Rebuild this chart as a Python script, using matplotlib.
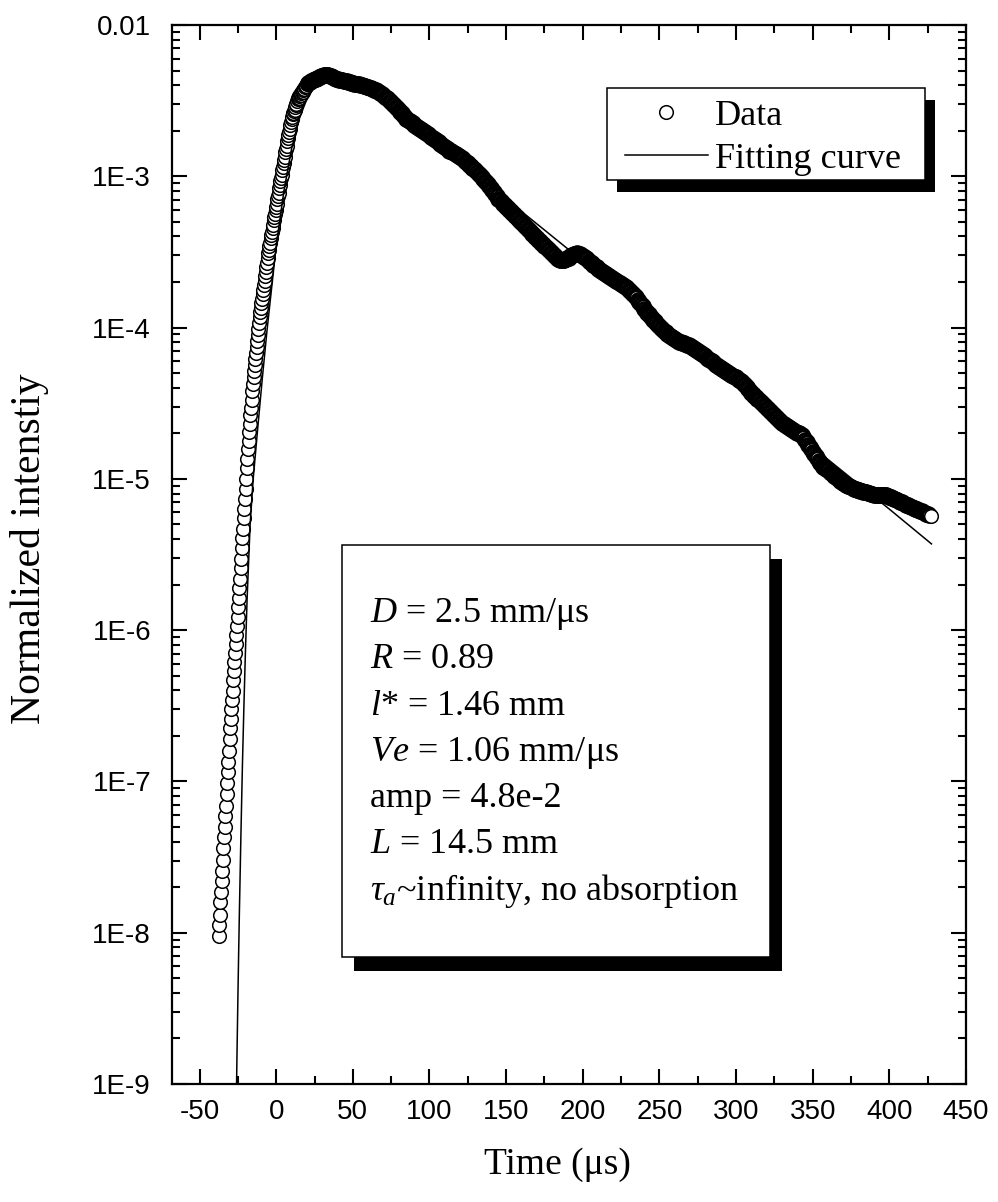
import numpy as np
import matplotlib
matplotlib.use('Agg')
import matplotlib.pyplot as plt
from matplotlib.lines import Line2D
from matplotlib.patches import Rectangle
from matplotlib.ticker import LogLocator, NullFormatter, MultipleLocator

SANS = 'Liberation Sans'
SERIF = 'Liberation Serif'

plt.rcParams['mathtext.fontset'] = 'custom'
plt.rcParams['mathtext.rm'] = SERIF
plt.rcParams['mathtext.it'] = SERIF + ':italic'

# Measured trace, log10 of normalized intensity.
# Leading edge sampled every 0.4 us, decay every 1 us.
RISE_T0, RISE_DT = -37.6, 0.4
rise_log = [
    -8.02, -7.95, -7.88, -7.80, -7.73, -7.66, -7.59, -7.52, -7.44, -7.37,
    -7.30, -7.23, -7.16, -7.08, -7.01, -6.94, -6.87, -6.80, -6.72, -6.65,
    -6.59, -6.52, -6.46, -6.40, -6.33, -6.27,
    -6.21, -6.15, -6.09, -6.03, -5.97, -5.91, -5.85, -5.79,
    -5.72, -5.66, -5.59, -5.53, -5.46, -5.39, -5.33, -5.26, -5.20, -5.13,
    -5.07, -5.00, -4.93, -4.87, -4.80,
    -4.75, -4.69, -4.64, -4.58, -4.53, -4.48, -4.42, -4.37,
    -4.33, -4.29, -4.25, -4.21, -4.17, -4.13, -4.09, -4.05, -4.01, -3.97, -3.93,
    -3.90, -3.87, -3.84, -3.81, -3.78, -3.75, -3.72, -3.69, -3.66, -3.63,
    -3.60, -3.57, -3.54, -3.51,
    -3.49, -3.46, -3.44, -3.41, -3.39, -3.37, -3.34, -3.32, -3.29, -3.27,
    -3.25, -3.22, -3.20, -3.18, -3.15, -3.13,
    -3.11, -3.08, -3.06, -3.03, -3.01, -2.99, -2.96, -2.94, -2.91, -2.89,
    -2.87, -2.84,
    -2.82, -2.80, -2.77, -2.75, -2.73, -2.71, -2.69, -2.66, -2.64, -2.62,
    -2.61, -2.59, -2.58, -2.57, -2.56, -2.54, -2.53, -2.52, -2.50, -2.49,
    -2.48, -2.48, -2.47, -2.46, -2.46, -2.45, -2.44, -2.44, -2.43, -2.42,
    -2.42, -2.41, -2.40, -2.40, -2.39,
]

DECAY_T0, DECAY_DT = 21.0, 1.0
decay_log = [
    -2.385, -2.379, -2.373, -2.366, -2.360, -2.355, -2.350, -2.345, -2.340, -2.335,
    -2.333, -2.331, -2.330, -2.333, -2.337, -2.340, -2.345, -2.350, -2.355, -2.360,
    -2.362, -2.364, -2.366, -2.368, -2.370, -2.373, -2.376, -2.379, -2.382, -2.385,
    -2.387, -2.389, -2.391, -2.393, -2.395, -2.398, -2.401, -2.404, -2.407, -2.410,
    -2.414, -2.419, -2.423, -2.427, -2.431, -2.436, -2.440, -2.449, -2.457, -2.466,
    -2.475, -2.484, -2.492, -2.501, -2.510, -2.520, -2.530, -2.540, -2.550, -2.560,
    -2.572, -2.584, -2.596, -2.608, -2.620, -2.628, -2.635, -2.643, -2.650, -2.658,
    -2.665, -2.673, -2.680, -2.687, -2.694, -2.701, -2.709, -2.716, -2.723, -2.730,
    -2.738, -2.745, -2.753, -2.761, -2.768, -2.776, -2.784, -2.792, -2.799, -2.807,
    -2.815, -2.822, -2.830, -2.836, -2.841, -2.847, -2.853, -2.859, -2.864, -2.870,
    -2.879, -2.888, -2.897, -2.906, -2.915, -2.924, -2.933, -2.942, -2.951, -2.960,
    -2.971, -2.983, -2.994, -3.006, -3.017, -3.029, -3.040, -3.053, -3.067, -3.080,
    -3.093, -3.107, -3.120, -3.133, -3.147, -3.160, -3.170, -3.180, -3.190, -3.200,
    -3.210, -3.220, -3.230, -3.240, -3.250, -3.261, -3.272, -3.283, -3.293, -3.304,
    -3.315, -3.326, -3.337, -3.348, -3.358, -3.369, -3.380, -3.390, -3.400, -3.410,
    -3.420, -3.430, -3.440, -3.450, -3.460, -3.470, -3.480, -3.490, -3.500, -3.510,
    -3.520, -3.530, -3.540, -3.546, -3.551, -3.554, -3.556, -3.555, -3.550, -3.543,
    -3.537, -3.530, -3.523, -3.517, -3.513, -3.510, -3.511, -3.515, -3.520, -3.527,
    -3.535, -3.542, -3.550, -3.559, -3.567, -3.576, -3.585, -3.594, -3.602, -3.611,
    -3.620, -3.627, -3.633, -3.640, -3.647, -3.653, -3.660, -3.667, -3.673, -3.680,
    -3.686, -3.693, -3.699, -3.705, -3.711, -3.718, -3.724, -3.730, -3.740, -3.750,
    -3.760, -3.770, -3.780, -3.790, -3.800, -3.815, -3.830, -3.845, -3.860, -3.875,
    -3.890, -3.901, -3.913, -3.924, -3.936, -3.947, -3.959, -3.970, -3.980, -3.990,
    -4.000, -4.010, -4.020, -4.030, -4.040, -4.047, -4.054, -4.061, -4.069, -4.076,
    -4.083, -4.090, -4.094, -4.098, -4.101, -4.105, -4.109, -4.113, -4.116, -4.120,
    -4.127, -4.134, -4.141, -4.148, -4.155, -4.162, -4.169, -4.176, -4.183, -4.190,
    -4.198, -4.206, -4.214, -4.222, -4.230, -4.238, -4.246, -4.254, -4.262, -4.270,
    -4.276, -4.282, -4.288, -4.294, -4.300, -4.306, -4.312, -4.318, -4.324, -4.330,
    -4.338, -4.346, -4.354, -4.362, -4.370, -4.382, -4.394, -4.406, -4.418, -4.430,
    -4.440, -4.450, -4.460, -4.470, -4.480, -4.490, -4.500, -4.510, -4.520, -4.530,
    -4.540, -4.550, -4.560, -4.570, -4.580, -4.590, -4.600, -4.610, -4.620, -4.630,
    -4.637, -4.644, -4.651, -4.659, -4.666, -4.673, -4.680, -4.685, -4.690, -4.695,
    -4.700, -4.705, -4.710, -4.726, -4.741, -4.757, -4.773, -4.789, -4.804, -4.820,
    -4.835, -4.850, -4.865, -4.880, -4.895, -4.910, -4.919, -4.927, -4.936, -4.944,
    -4.953, -4.961, -4.970, -4.979, -4.987, -4.996, -5.004, -5.013, -5.021, -5.030,
    -5.035, -5.040, -5.045, -5.050, -5.055, -5.060, -5.065, -5.070, -5.073, -5.076,
    -5.079, -5.081, -5.084, -5.087, -5.090, -5.093, -5.096, -5.099, -5.101, -5.104,
    -5.107, -5.110, -5.110, -5.110, -5.110, -5.110, -5.110, -5.110, -5.114, -5.119,
    -5.123, -5.127, -5.131, -5.136, -5.140, -5.145, -5.150, -5.155, -5.160, -5.165,
    -5.170, -5.175, -5.180, -5.184, -5.189, -5.193, -5.197, -5.201, -5.206, -5.210,
    -5.215, -5.220, -5.225, -5.230, -5.235, -5.240, -5.245,
]

# Diffusion model fit (log10 intensity)
fit_time = [-26.0, -25.5, -25.0, -24.5, -24.0, -23.0, -22.0, -21.0, -20.0, -19.0,
            -17.0, -15.0, -12.0, -9.0, -6.0, -3.0, 0.0, 5.0, 10.0, 15.0,
            20.0, 25.0, 30.0, 35.0, 40.0, 50.0, 60.0, 70.0, 80.0, 90.0,
            100.0, 125.0, 150.0, 200.0, 250.0, 300.0, 350.0, 400.0, 427.5]
fit_log = [-9.10, -8.76, -8.44, -8.14, -7.86, -7.35, -6.88, -6.48, -6.12, -5.80,
           -5.30, -5.00, -4.66, -4.33, -4.02, -3.74, -3.46, -3.10, -2.82, -2.62,
           -2.49, -2.41, -2.37, -2.355, -2.36, -2.39, -2.44, -2.51, -2.58, -2.66,
           -2.74, -2.945, -3.15, -3.56, -3.97, -4.38, -4.79, -5.20, -5.43]

fit_params = [
    r"$D$ = 2.5 mm/μs",
    r"$R$ = 0.89",
    r"$l$* = 1.46 mm",
    r"$Ve$ = 1.06 mm/μs",
    "amp = 4.8e-2",
    r"$L$ = 14.5 mm",
    r"$\tau_a$~infinity, no absorption",
]

x_ticks = [-50, 0, 50, 100, 150, 200, 250, 300, 350, 400, 450]
y_ticks = [1e-2, 1e-3, 1e-4, 1e-5, 1e-6, 1e-7, 1e-8, 1e-9]
y_ticklabels = ['0.01', '1E-3', '1E-4', '1E-5', '1E-6', '1E-7', '1E-8', '1E-9']

rise_t = RISE_T0 + RISE_DT * np.arange(len(rise_log))
decay_t = DECAY_T0 + DECAY_DT * np.arange(len(decay_log))
rise_i = 10.0 ** np.array(rise_log)
decay_i = 10.0 ** np.array(decay_log)

fig = plt.figure(figsize=(9.98, 12.02), dpi=100)
ax = fig.add_axes([0.1723, 0.0982, 0.7956, 0.8810])

marker_style = dict(ls='none', marker='o', ms=9.8, mfc='white', mec='black', mew=1.1)
ax.plot(rise_t, rise_i, zorder=2, **marker_style)
# decay points overlap into a solid band, heavier edge closes the gaps
ax.plot(decay_t[:-1], decay_i[:-1], zorder=2, **{**marker_style, 'mew': 2.2})
ax.plot(decay_t[-1:], decay_i[-1:], zorder=2, **marker_style)
ax.plot(fit_time, 10.0 ** np.array(fit_log), color='black', lw=1.1, zorder=3)

ax.set_yscale('log')
ax.set_xlim(-68, 450)
ax.set_ylim(1e-9, 1e-2)

ax.set_xticks(x_ticks)
ax.set_xticklabels([str(v) for v in x_ticks])
ax.xaxis.set_minor_locator(MultipleLocator(25))
ax.set_yticks(y_ticks)
ax.set_yticklabels(y_ticklabels)
ax.yaxis.set_minor_locator(LogLocator(base=10, subs=np.arange(2, 10), numticks=100))
ax.yaxis.set_minor_formatter(NullFormatter())

ax.tick_params(which='both', direction='in', top=True, right=True, width=1.5)
ax.tick_params(which='major', length=11)
ax.tick_params(which='minor', length=6)
ax.tick_params(axis='x', which='major', pad=11)
ax.tick_params(axis='y', which='major', pad=15)
for lbl in ax.get_xticklabels() + ax.get_yticklabels():
    lbl.set_fontfamily(SANS)
    lbl.set_fontsize(20)
for sp in ax.spines.values():
    sp.set_linewidth(1.6)

ax.set_xlabel('Time (μs)', fontfamily=SERIF, fontsize=27)
ax.xaxis.set_label_coords(0.485, -0.060)
ax.set_ylabel('Normalized intenstiy', fontfamily=SERIF, fontsize=30,
              va='center', ha='center')
ax.yaxis.set_label_coords(-0.179, 0.505)

# legend with drop shadow
ax.add_patch(Rectangle((0.5605, 0.8423), 0.4005, 0.0869, transform=ax.transAxes,
                       fc='black', ec='none', zorder=5))
ax.add_patch(Rectangle((0.5479, 0.8536), 0.4005, 0.0869, transform=ax.transAxes,
                       fc='white', ec='black', lw=1.1, zorder=5.5))
handles = [Line2D([], [], **marker_style), Line2D([], [], color='black', lw=1.1)]
leg = ax.legend(handles, ['Data', 'Fitting curve'], loc='upper left',
                bbox_to_anchor=(0.5705, 0.9297), borderaxespad=0, borderpad=0,
                frameon=False, prop={'family': SERIF, 'size': 26},
                handlelength=2.3, handletextpad=0.2, labelspacing=0.27)
leg.set_zorder(6)

# parameter box with drop shadow
ax.add_patch(Rectangle((0.2292, 0.1067), 0.5390, 0.3890, transform=ax.transAxes,
                       fc='black', ec='none', zorder=5))
ax.add_patch(Rectangle((0.2141, 0.1199), 0.5390, 0.3890, transform=ax.transAxes,
                       fc='white', ec='black', lw=1.1, zorder=5.5))
for k, line in enumerate(fit_params):
    y_px = 622 + 46.3 * k
    ax.text(0.2494, 1 - (y_px - 25) / 1059, line, transform=ax.transAxes,
            fontfamily=SERIF, fontsize=26, va='baseline', ha='left', zorder=6)

fig.savefig('out.png', dpi=100)
